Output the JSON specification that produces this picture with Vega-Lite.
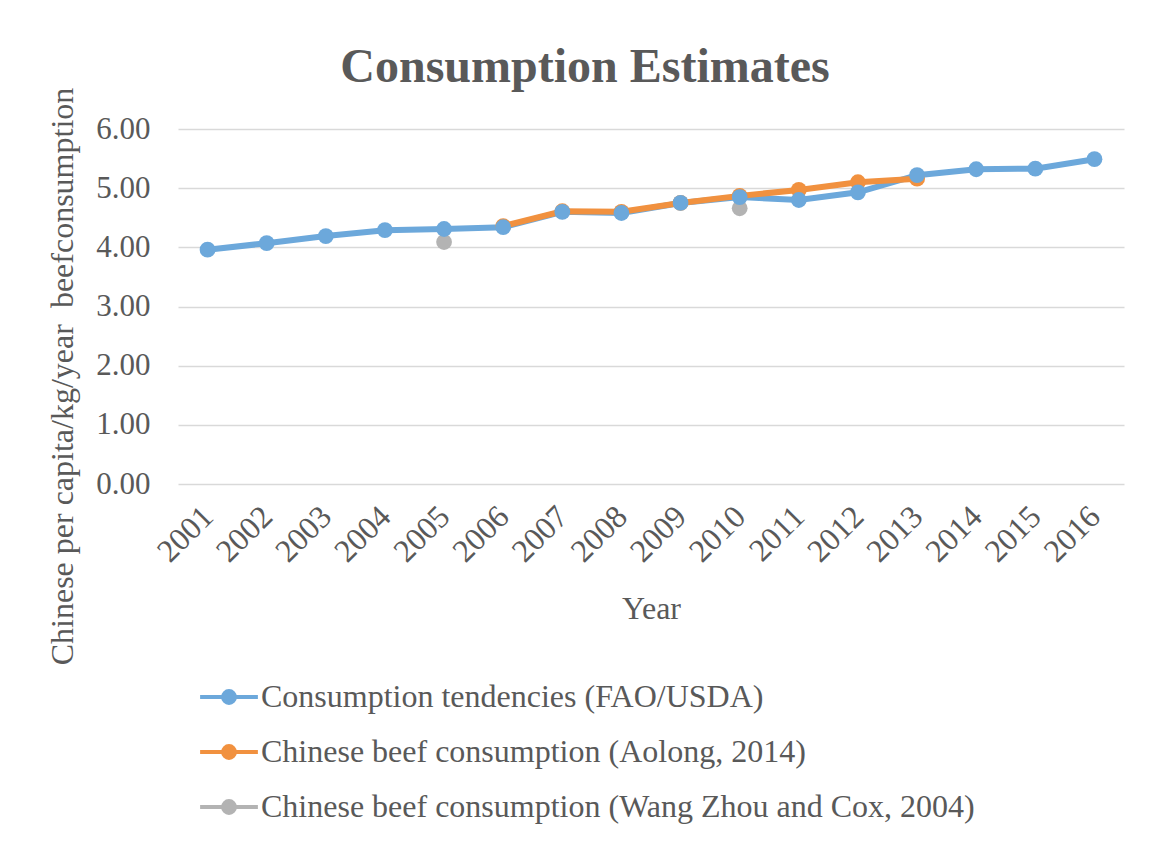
{
  "$schema": "https://vega.github.io/schema/vega-lite/v6.json",
  "autosize": {"type": "none"},
  "width": 946,
  "height": 355,
  "padding": {"left": 178, "top": 129, "right": 27, "bottom": 359},
  "background": "white",
  "title": {
    "text": "Consumption Estimates",
    "font": "Liberation Serif",
    "fontSize": 48,
    "fontWeight": "bold",
    "color": "#595959",
    "anchor": "middle",
    "dx": -66,
    "baseline": "alphabetic",
    "offset": -43,
    "frame": "group"
  },
  "data": {
    "values": [
      {"year": "2001", "series": "Consumption tendencies (FAO/USDA)", "value": 3.96},
      {"year": "2002", "series": "Consumption tendencies (FAO/USDA)", "value": 4.07},
      {"year": "2003", "series": "Consumption tendencies (FAO/USDA)", "value": 4.19},
      {"year": "2004", "series": "Consumption tendencies (FAO/USDA)", "value": 4.29},
      {"year": "2005", "series": "Consumption tendencies (FAO/USDA)", "value": 4.31},
      {"year": "2006", "series": "Consumption tendencies (FAO/USDA)", "value": 4.34},
      {"year": "2007", "series": "Consumption tendencies (FAO/USDA)", "value": 4.60},
      {"year": "2008", "series": "Consumption tendencies (FAO/USDA)", "value": 4.58},
      {"year": "2009", "series": "Consumption tendencies (FAO/USDA)", "value": 4.75},
      {"year": "2010", "series": "Consumption tendencies (FAO/USDA)", "value": 4.85},
      {"year": "2011", "series": "Consumption tendencies (FAO/USDA)", "value": 4.80},
      {"year": "2012", "series": "Consumption tendencies (FAO/USDA)", "value": 4.93},
      {"year": "2013", "series": "Consumption tendencies (FAO/USDA)", "value": 5.22},
      {"year": "2014", "series": "Consumption tendencies (FAO/USDA)", "value": 5.32},
      {"year": "2015", "series": "Consumption tendencies (FAO/USDA)", "value": 5.33},
      {"year": "2016", "series": "Consumption tendencies (FAO/USDA)", "value": 5.49},
      {"year": "2006", "series": "Chinese beef consumption (Aolong, 2014)", "value": 4.36},
      {"year": "2007", "series": "Chinese beef consumption (Aolong, 2014)", "value": 4.61},
      {"year": "2008", "series": "Chinese beef consumption (Aolong, 2014)", "value": 4.60},
      {"year": "2009", "series": "Chinese beef consumption (Aolong, 2014)", "value": 4.75},
      {"year": "2010", "series": "Chinese beef consumption (Aolong, 2014)", "value": 4.87},
      {"year": "2011", "series": "Chinese beef consumption (Aolong, 2014)", "value": 4.97},
      {"year": "2012", "series": "Chinese beef consumption (Aolong, 2014)", "value": 5.10},
      {"year": "2013", "series": "Chinese beef consumption (Aolong, 2014)", "value": 5.16},
      {"year": "2005", "series": "Chinese beef consumption (Wang Zhou and Cox, 2004)", "value": 4.09},
      {"year": "2010", "series": "Chinese beef consumption (Wang Zhou and Cox, 2004)", "value": 4.66}
    ]
  },
  "encoding": {
    "x": {
      "field": "year",
      "type": "ordinal",
      "scale": {"paddingInner": 0, "paddingOuter": 0},
      "axis": {
        "title": "Year",
        "titleFont": "Liberation Serif",
        "titleFontSize": 32,
        "titleFontWeight": "normal",
        "titleColor": "#595959",
        "titleBaseline": "alphabetic",
        "titleY": 134,
        "labelAngle": -45,
        "labelAlign": "right",
        "labelBaseline": "middle",
        "labelFont": "Liberation Serif",
        "labelFontSize": 32,
        "labelColor": "#595959",
        "labelPadding": 27,
        "ticks": false,
        "domain": false,
        "grid": false
      }
    },
    "y": {
      "field": "value",
      "type": "quantitative",
      "scale": {"domain": [0, 6]},
      "axis": {
        "title": "Chinese per capita/kg/year \u00a0beefconsumption",
        "titleFont": "Liberation Serif",
        "titleFontSize": 32,
        "titleFontWeight": "normal",
        "titleColor": "#595959",
        "titleAngle": -90,
        "titleAlign": "center",
        "titleBaseline": "alphabetic",
        "titleX": -106,
        "titleY": 247,
        "values": [0, 1, 2, 3, 4, 5, 6],
        "format": ".2f",
        "labelFont": "Liberation Serif",
        "labelFontSize": 31,
        "labelColor": "#595959",
        "labelPadding": 28,
        "ticks": false,
        "domain": false,
        "grid": true,
        "gridColor": "#D9D9D9",
        "gridWidth": 1.5
      }
    },
    "color": {
      "field": "series",
      "type": "nominal",
      "scale": {
        "domain": ["Consumption tendencies (FAO/USDA)", "Chinese beef consumption (Aolong, 2014)", "Chinese beef consumption (Wang Zhou and Cox, 2004)"],
        "range": ["#6CA8DB", "#F1913F", "#B3B3B3"]
      },
      "legend": {
        "title": null,
        "orient": "none",
        "legendX": 22,
        "legendY": 539,
        "direction": "vertical",
        "padding": 0,
        "rowPadding": 10,
        "symbolType": "M-1.07,0H1.07M0.22,0A0.22,0.22,0,1,1,-0.22,0A0.22,0.22,0,1,1,0.22,0Z",
        "symbolSize": 2916,
        "symbolStrokeWidth": 4,
        "labelFont": "Liberation Serif",
        "labelFontSize": 32,
        "labelColor": "#595959",
        "labelOffset": 3,
        "labelLimit": 1000
      }
    },
    "order": {"field": "series", "type": "nominal"}
  },
  "layer": [
    {
      "transform": [{"filter": "datum.series !== 'Chinese beef consumption (Wang Zhou and Cox, 2004)'"}],
      "mark": {"type": "line", "strokeWidth": 6}
    },
    {
      "mark": {"type": "point", "filled": true, "size": 250, "opacity": 1}
    }
  ],
  "config": {
    "view": {"stroke": null}
  }
}
